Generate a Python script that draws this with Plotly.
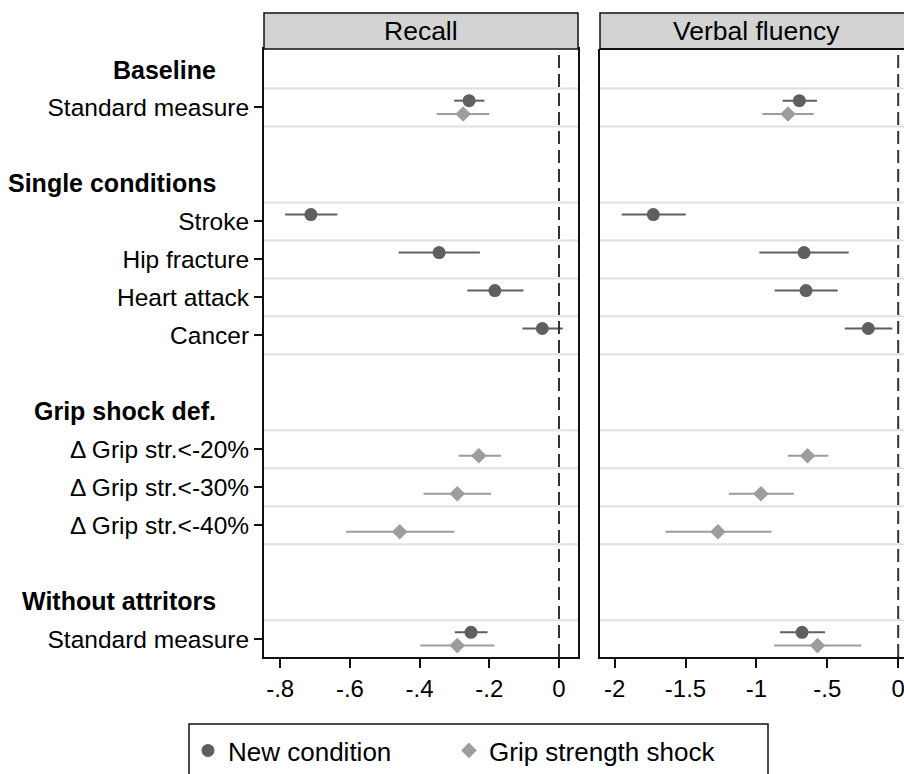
import plotly.graph_objects as go

# ---------------- data ----------------
row_labels = ["Standard measure", "Stroke", "Hip fracture", "Heart attack", "Cancer",
              "Δ Grip str.<-20%", "Δ Grip str.<-30%", "Δ Grip str.<-40%", "Standard measure"]
row_pos = [1, 4, 5, 6, 7, 10, 11, 12, 15]
headers = ["Baseline", "Single conditions", "Grip shock def.", "Without attritors"]
header_pos = [0, 3, 9, 14]

panels = ["Recall", "Verbal fluency"]
series_names = ["New condition", "Grip strength shock"]

# New condition rows
nc_rows = [1, 4, 5, 6, 7, 15]
nc_recall = [-0.258, -0.712, -0.344, -0.184, -0.048, -0.2525]
nc_recall_lo = [-0.301, -0.786, -0.460, -0.263, -0.105, -0.299]
nc_recall_hi = [-0.214, -0.636, -0.227, -0.102, 0.011, -0.205]
nc_verbal = [-0.697, -1.727, -0.664, -0.650, -0.211, -0.678]
nc_verbal_lo = [-0.815, -1.950, -0.979, -0.871, -0.377, -0.834]
nc_verbal_hi = [-0.573, -1.499, -0.349, -0.427, -0.041, -0.516]

# Grip strength shock rows
gs_rows = [1, 10, 11, 12, 15]
gs_recall = [-0.275, -0.230, -0.292, -0.457, -0.292]
gs_recall_lo = [-0.351, -0.288, -0.389, -0.611, -0.398]
gs_recall_hi = [-0.200, -0.167, -0.195, -0.300, -0.185]
gs_verbal = [-0.777, -0.639, -0.968, -1.271, -0.569]
gs_verbal_lo = [-0.958, -0.777, -1.195, -1.642, -0.874]
gs_verbal_hi = [-0.596, -0.492, -0.736, -0.894, -0.260]

recall_ticks = [-0.8, -0.6, -0.4, -0.2, 0]
recall_ticktext = ["-.8", "-.6", "-.4", "-.2", "0"]
verbal_ticks = [-2, -1.5, -1, -0.5, 0]
verbal_ticktext = ["-2", "-1.5", "-1", "-.5", "0"]

# ---------------- style ----------------
W, H = 904, 774
FONT = "Liberation Sans, Arial, sans-serif"
C_NC = "#5f5f5f"
C_GS = "#9d9d9d"
GRID = "#e0e0e0"
BLACK = "#111111"


def px(xp):
    return xp / W


def py(yp):
    return 1 - yp / H


x1_dom = [px(264), px(578)]
x2_dom = [px(600), 1.0]
y_dom = [py(657), py(49)]

fig = go.Figure()


def add_series(rows, vals, lo, hi, color, symbol, size, offset, xa, ya, name, show, legend):
    fig.add_trace(go.Scatter(
        x=vals,
        y=[r + offset for r in rows],
        mode="markers",
        name=name,
        showlegend=show,
        legend=legend,
        legendgroup=name,
        marker=dict(color=color, symbol=symbol, size=size, line=dict(width=0)),
        error_x=dict(type="data", symmetric=False,
                     array=[h - v for h, v in zip(hi, vals)],
                     arrayminus=[v - l for v, l in zip(vals, lo)],
                     color=color, thickness=2, width=0),
        xaxis=xa, yaxis=ya,
        cliponaxis=False,
    ))


add_series(nc_rows, nc_recall, nc_recall_lo, nc_recall_hi, C_NC, "circle", 13, -0.18, "x", "y",
           series_names[0], True, "legend")
add_series(gs_rows, gs_recall, gs_recall_lo, gs_recall_hi, C_GS, "diamond", 12, 0.17, "x", "y",
           series_names[1], True, "legend2")
add_series(nc_rows, nc_verbal, nc_verbal_lo, nc_verbal_hi, C_NC, "circle", 13, -0.18, "x2", "y2",
           series_names[0], False, "legend")
add_series(gs_rows, gs_verbal, gs_verbal_lo, gs_verbal_hi, C_GS, "diamond", 12, 0.17, "x2", "y2",
           series_names[1], False, "legend2")

y_range = [15.47, -0.54]

shapes = []
# light horizontal separators
sep = sorted(set([r - 0.5 for r in row_pos] + [r + 0.5 for r in row_pos]))
for xr in ["x", "x2"]:
    for s in sep:
        if s < y_range[0]:
            shapes.append(dict(type="line", xref=f"{xr} domain", yref="y", x0=0, x1=1, y0=s, y1=s,
                               line=dict(color=GRID, width=2), layer="below"))
    # dashed zero line
    shapes.append(dict(type="line", xref=xr, yref="y domain", x0=0, x1=0, y0=0, y1=1,
                       line=dict(color="#333333", width=2, dash="13px,6px"), layer="above"))

# strips
shapes.append(dict(type="rect", xref="paper", yref="paper", x0=x1_dom[0], x1=x1_dom[1],
                   y0=py(49), y1=py(13), fillcolor="#d3d3d3", line=dict(color=BLACK, width=1.5)))
shapes.append(dict(type="rect", xref="paper", yref="paper", x0=x2_dom[0], x1=1.02,
                   y0=py(49), y1=py(13), fillcolor="#d3d3d3", line=dict(color=BLACK, width=1.5)))
# legend box (bottom clipped like reference)
shapes.append(dict(type="rect", xref="paper", yref="paper", x0=px(189), x1=px(768),
                   y0=py(800), y1=py(724), fillcolor="rgba(0,0,0,0)", line=dict(color=BLACK, width=1.5)))

annotations = []
strip_centers = [px(421), px(756)]
for name, cx in zip(panels, strip_centers):
    annotations.append(dict(text=name, xref="paper", yref="paper", x=cx, y=py(31),
                            xanchor="center", yanchor="middle", showarrow=False,
                            font=dict(family=FONT, size=26.5, color="black")))
for h, p in zip(headers, header_pos):
    annotations.append(dict(text=f"<b>{h}</b>", xref="paper", yref="y", x=px(218), y=p,
                            xanchor="right", yanchor="middle", showarrow=False,
                            font=dict(family=FONT, size=25, color="black")))

axis_common = dict(showgrid=False, zeroline=False, showline=True, linecolor=BLACK, linewidth=2,
                   ticks="outside", tickcolor=BLACK, tickwidth=1.5, ticklabeloverflow="allow")

legend_common = dict(orientation="h", y=py(727), xanchor="left", yanchor="top",
                     font=dict(family=FONT, size=26, color="black"), bgcolor="rgba(0,0,0,0)",
                     borderwidth=0, itemclick=False, itemdoubleclick=False)

fig.update_layout(
    width=W, height=H,
    margin=dict(l=0, r=0, t=0, b=0, autoexpand=False),
    paper_bgcolor="white", plot_bgcolor="white",
    xaxis=dict(domain=x1_dom, range=[-0.8465, 0.0545], tickvals=recall_ticks, ticktext=recall_ticktext,
               ticklen=9, mirror=True, anchor="y", tickfont=dict(family=FONT, size=24, color="black"),
               **axis_common),
    xaxis2=dict(domain=x2_dom, range=[-2.103, 0.041], tickvals=verbal_ticks, ticktext=verbal_ticktext,
                ticklen=9, mirror=False, anchor="y2", tickfont=dict(family=FONT, size=24, color="black"),
                **axis_common),
    yaxis=dict(domain=y_dom, range=y_range, tickvals=row_pos,
               ticktext=[t.replace("<", "&lt;") for t in row_labels],
               ticklen=8, mirror=True, anchor="x", tickfont=dict(family=FONT, size=24.5, color="black"),
               **axis_common),
    yaxis2=dict(domain=y_dom, range=y_range, showticklabels=False, ticks="",
                showgrid=False, zeroline=False, showline=True, linecolor=BLACK, linewidth=2,
                mirror=False, anchor="x2", matches="y"),
    shapes=shapes,
    annotations=annotations,
    showlegend=True,
    legend=dict(x=px(188), **legend_common),
    legend2=dict(x=px(449), **legend_common),
)
# top line for right panel
fig.add_shape(type="line", xref="x2 domain", yref="paper", x0=0, x1=1.2, y0=py(49), y1=py(49),
              line=dict(color=BLACK, width=2))

fig.write_html("out.html", config={"displayModeBar": False},
               post_script="document.body.style.margin='0';document.body.style.overflow='hidden';")
